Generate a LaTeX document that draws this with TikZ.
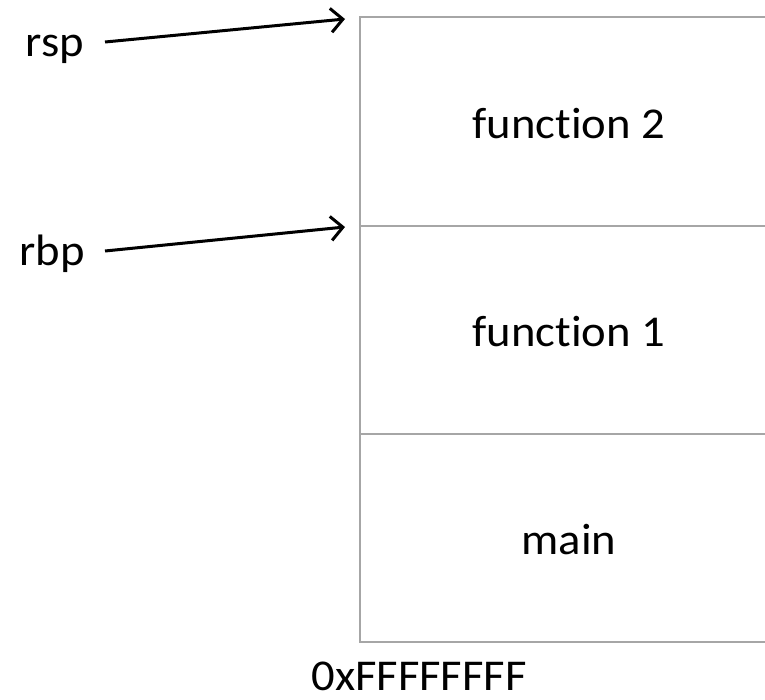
\documentclass[tikz,border=0pt]{standalone}
\usepackage{fontspec}
\setmainfont{Carlito}[FakeStretch=1.06, Ligatures=NoCommon]
\usetikzlibrary{arrows.meta}
\definecolor{stackgray}{HTML}{A6A6A6}
\begin{document}
\begin{tikzpicture}[x=1pt,y=-1pt,
  cell/.style={draw=stackgray, line width=2pt},
  lbl/.style={font=\fontsize{44}{48}\selectfont, inner sep=0pt, anchor=base},
  ptr/.style={line width=3pt, -{Straight Barb[length=12pt,width=24pt,line width=3pt]}}]
\useasboundingbox (0,0) rectangle (765,699);
\coordinate (tl) at (360,17);
\coordinate (bl) at (360,642);
\coordinate (tr) at (770,17);
\coordinate (br) at (770,642);
\coordinate (d1l) at (360,226);
\coordinate (d1r) at (770,226);
\coordinate (d2l) at (360,434);
\coordinate (d2r) at (770,434);
\draw[cell] (tr) -- (tl) -- (bl) -- (br);
\draw[cell] (d1l) -- (d1r);
\draw[cell] (d2l) -- (d2r);
\node[lbl] (f2) at (569,138) {function 2};
\node[lbl] (f1) at (569,346) {function 1};
\node[lbl] (mn) at (569,554) {main};
\node[lbl] (addr) at (419,690) {0xFFFFFFFF};
\node[lbl] (rsp) at (55,56) {rsp};
\node[lbl] (rbp) at (52,265) {rbp};
\coordinate (rspstart) at (105,42);
\coordinate (rspend) at (345,19);
\coordinate (rbpstart) at (105,251);
\coordinate (rbpend) at (345,227);
\draw[ptr] (rspstart) -- (rspend);
\draw[ptr] (rbpstart) -- (rbpend);
\end{tikzpicture}
\end{document}
